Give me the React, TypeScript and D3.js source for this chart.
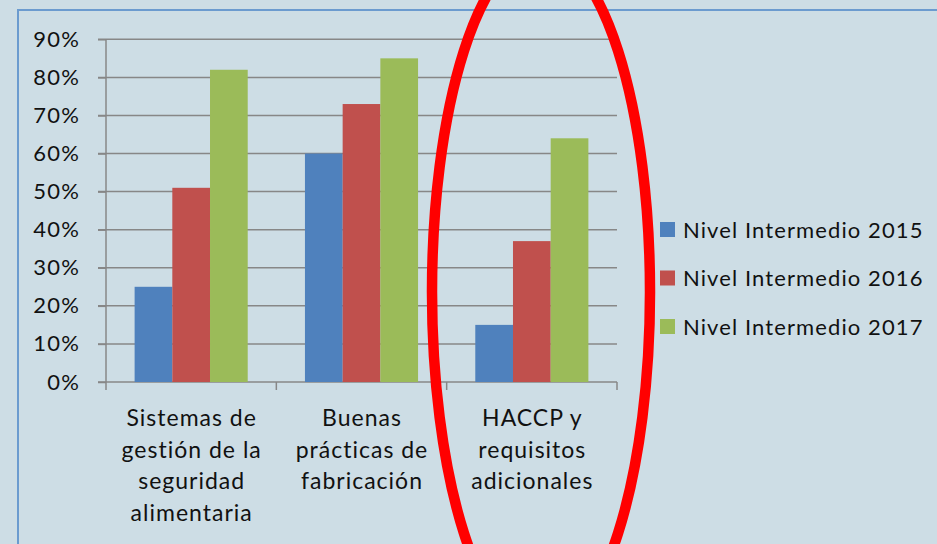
import React, { useRef, useEffect } from 'react';
import * as d3 from 'd3';

const categories = ['Sistemas de gestión de la seguridad alimentaria', 'Buenas prácticas de fabricación', 'HACCP y requisitos adicionales'];
const categoryLines = [
  ['Sistemas de', 'gestión de la', 'seguridad', 'alimentaria'],
  ['Buenas', 'prácticas de', 'fabricación'],
  ['HACCP y', 'requisitos', 'adicionales'],
];
const seriesNames = ['Nivel Intermedio 2015', 'Nivel Intermedio 2016', 'Nivel Intermedio 2017'];
const values2015 = [0.25, 0.60, 0.15];
const values2016 = [0.51, 0.73, 0.37];
const values2017 = [0.82, 0.85, 0.64];
const seriesColors = ['#4f81bd', '#c0504d', '#9bbb59'];
const yTicks = [0, 0.1, 0.2, 0.3, 0.4, 0.5, 0.6, 0.7, 0.8, 0.9];

const W = 937;
const H = 544;
const FONT = 'Lato, "Open Sans", sans-serif';

export default function App() {
  const ref = useRef<SVGSVGElement | null>(null);

  useEffect(() => {
    if (!ref.current) return;
    const svg = d3.select(ref.current);
    svg.selectAll('*').remove();

    const seriesValues = [values2015, values2016, values2017];

    // background
    svg.append('rect').attr('width', W).attr('height', H).attr('fill', '#cddde5');

    // chart border (left + top)
    svg.append('path')
      .attr('d', `M18,${H} L18,10 L${W},10`)
      .attr('fill', 'none')
      .attr('stroke', '#6b9bcf')
      .attr('stroke-width', 2);

    const plotLeft = 106, plotRight = 617;
    const y = d3.scaleLinear().domain([0, 0.9]).range([382, 39.3]);
    const x0 = d3.scaleBand<string>().domain(categories).range([plotLeft, plotRight]);
    const groupW = x0.bandwidth() * 0.664;
    const x1 = d3.scaleBand<string>().domain(seriesNames).range([0, groupW]);
    const groupOff = (x0.bandwidth() - groupW) / 2;

    // gridlines
    svg.append('g')
      .selectAll('line')
      .data(yTicks.filter(t => t > 0))
      .join('line')
      .attr('x1', plotLeft - 8).attr('x2', plotRight)
      .attr('y1', d => y(d)).attr('y2', d => y(d))
      .attr('stroke', '#878787').attr('stroke-width', 1.5);

    // y axis
    const yAxis = svg.append('g')
      .attr('transform', `translate(${plotLeft},0)`)
      .call(d3.axisLeft(y).tickValues(yTicks).tickFormat(d3.format('.0%')).tickSize(8).tickPadding(17));
    yAxis.select('.domain').remove();
    yAxis.selectAll('.tick line').attr('stroke', '#878787').attr('stroke-width', 1.5);
    yAxis.selectAll('.tick text')
      .attr('fill', '#111')
      .attr('dx', '-1')
      .style('font-family', FONT)
      .style('font-size', '22px')
      .style('letter-spacing', '1.2px');
    svg.append('line')
      .attr('x1', plotLeft).attr('x2', plotLeft)
      .attr('y1', y(0.9)).attr('y2', y(0))
      .attr('stroke', '#878787').attr('stroke-width', 1.5);

    // x axis
    svg.append('line')
      .attr('x1', plotLeft - 8).attr('x2', plotRight)
      .attr('y1', y(0)).attr('y2', y(0))
      .attr('stroke', '#878787').attr('stroke-width', 1.5);
    const xTicks = categories.map(c => x0(c) as number).concat([plotRight]);
    svg.append('g')
      .selectAll('line')
      .data(xTicks)
      .join('line')
      .attr('x1', d => d).attr('x2', d => d)
      .attr('y1', y(0)).attr('y2', y(0) + 8)
      .attr('stroke', '#878787').attr('stroke-width', 1.5);

    // bars
    seriesNames.forEach((s, si) => {
      svg.append('g')
        .selectAll('rect')
        .data(categories)
        .join('rect')
        .attr('x', c => (x0(c) as number) + groupOff + (x1(s) as number))
        .attr('y', (c, i) => y(seriesValues[si][i]))
        .attr('width', x1.bandwidth())
        .attr('height', (c, i) => y(0) - y(seriesValues[si][i]))
        .attr('fill', seriesColors[si]);
    });

    // category labels
    categories.forEach((c, i) => {
      const cx = (x0(c) as number) + x0.bandwidth() / 2 + 0.5;
      const t = svg.append('text')
        .attr('text-anchor', 'middle')
        .attr('fill', '#111')
        .style('font-family', FONT)
        .style('font-size', '23px')
        .style('letter-spacing', '1px');
      categoryLines[i].forEach((line, li) => {
        t.append('tspan').attr('x', cx).attr('y', 426 + li * 31.7).text(line);
      });
    });

    // legend
    seriesNames.forEach((s, i) => {
      const ly = 229.5 + i * 48.5;
      svg.append('rect')
        .attr('x', 660).attr('y', ly - 7.5)
        .attr('width', 15).attr('height', 15)
        .attr('fill', seriesColors[i]);
      svg.append('text')
        .attr('x', 683).attr('y', ly + 8)
        .attr('fill', '#111')
        .style('font-family', FONT)
        .style('font-size', '22px')
        .style('letter-spacing', '1.1px')
        .text(s);
    });

    // red highlight ellipse
    svg.append('ellipse')
      .attr('cx', 541).attr('cy', 292)
      .attr('rx', 109).attr('ry', 341)
      .attr('fill', 'none')
      .attr('stroke', '#ff0000')
      .attr('stroke-width', 10.5);
  }, []);

  return (
    <div style={{ position: 'absolute', left: 0, top: 0 }}>
      <svg ref={ref} width={W} height={H} style={{ display: 'block' }} />
    </div>
  );
}
